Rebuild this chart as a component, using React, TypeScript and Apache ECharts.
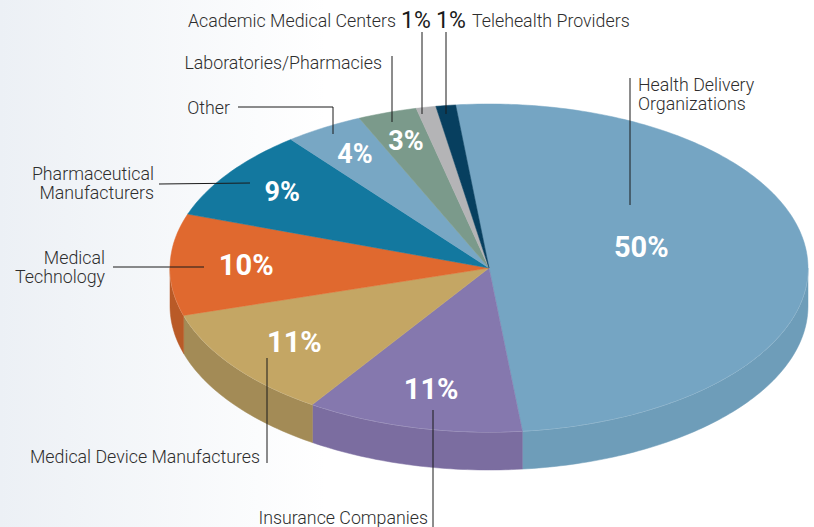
import React, { useEffect, useRef } from 'react';
import * as echarts from 'echarts';

const categories = [
  'Health Delivery Organizations',
  'Insurance Companies',
  'Medical Device Manufactures',
  'Medical Technology',
  'Pharmaceutical Manufacturers',
  'Other',
  'Laboratories/Pharmacies',
  'Academic Medical Centers',
  'Telehealth Providers',
];
const values = [50, 11, 11, 10, 9, 4, 3, 1, 1];
const topColors = ['#75a5c3', '#8578ae', '#c4a664', '#e0692f', '#13789f', '#78a7c4', '#7b9a8b', '#b4b4b6', '#073f5f'];
const sideColors = ['#6e9db9', '#7b6da0', '#a38b56', '#b95a27', '#0f6688', '#6b97b3', '#6b8a7b', '#9a9a9c', '#05324b'];

const CX = 489;
const CY = 268;
const RX = 319;
const RY = 164;
const DEPTH = 38;
const START = -96;

const total = values.reduce((a, b) => a + b, 0);
const cumulative = values.map((_, i) => values.slice(0, i).reduce((a, b) => a + b, 0));
const seriesData = values.map((v, i) => ({ name: categories[i], value: [v, cumulative[i]] }));

const rad = (d: number) => (d * Math.PI) / 180;
const pt = (a: number, dy = 0): number[] => [CX + RX * Math.cos(rad(a)), CY + RY * Math.sin(rad(a)) + dy];

function arc(a0: number, a1: number, dy = 0): number[][] {
  const n = Math.max(2, Math.ceil(Math.abs(a1 - a0)));
  const pts: number[][] = [];
  for (let i = 0; i <= n; i++) pts.push(pt(a0 + ((a1 - a0) * i) / n, dy));
  return pts;
}

const LABEL_FONT = 'Roboto';
const labelColor = '#2e2e2e';
const lineColor = '#1a1a1a';

function txt(x: number, y: number, text: string, align: string, size = 17.8, weight: any = 300, color = labelColor) {
  return {
    type: 'text',
    x,
    y,
    z: 10,
    style: { text, fill: color, fontSize: size, fontWeight: weight, fontFamily: LABEL_FONT, align, verticalAlign: 'middle', lineHeight: 19 },
  };
}
function line(points: number[][]) {
  return { type: 'polyline', z: 10, shape: { points }, style: { stroke: lineColor, lineWidth: 1, fill: null } };
}

export default function App() {
  const ref = useRef<HTMLDivElement>(null);
  useEffect(() => {
    document.body.style.margin = '0';
    const chart = echarts.init(ref.current!, null, { renderer: 'svg' });
    const option: any = {
      animation: false,
      backgroundColor: {
        type: 'linear', x: 0, y: 0, x2: 1, y2: 0,
        colorStops: [
          { offset: 0, color: '#ecf0f5' },
          { offset: 0.4, color: '#ffffff' },
          { offset: 1, color: '#ffffff' },
        ],
      },
      series: [
        {
          type: 'custom',
          coordinateSystem: 'none',
          z: 1,
          data: seriesData,
          renderItem: (params: any, api: any) => {
            const v = api.value(0);
            const c = api.value(1);
            const a0 = START + (c / total) * 360;
            const a1 = START + ((c + v) / total) * 360;
            const children: any[] = [];
            for (const [lo, hi] of [[0, 180], [360, 540]]) {
              const s = Math.max(a0, lo);
              const e = Math.min(a1, hi);
              if (e > s) {
                const top = arc(s, e);
                const bottom = arc(e, s, DEPTH);
                children.push({
                  type: 'polygon',
                  shape: { points: top.concat(bottom) },
                  style: { fill: sideColors[params.dataIndex], stroke: sideColors[params.dataIndex], lineWidth: 0.5 },
                });
                children.push({
                  type: 'polyline',
                  shape: { points: top },
                  style: { stroke: 'rgba(255,255,255,0.45)', lineWidth: 1, fill: null },
                });
              }
            }
            return { type: 'group', children };
          },
        },
        {
          type: 'custom',
          coordinateSystem: 'none',
          z: 2,
          data: seriesData,
          renderItem: (params: any, api: any) => {
            const v = api.value(0);
            const c = api.value(1);
            const a0 = START + (c / total) * 360;
            const a1 = START + ((c + v) / total) * 360;
            const color = topColors[params.dataIndex];
            const children: any[] = [
              {
                type: 'polygon',
                shape: { points: [[CX, CY]].concat(arc(a0, a1)) },
                style: { fill: color, stroke: color, lineWidth: 0.5 },
              },
            ];
            if (v >= 3) {
              const mid = (a0 + a1) / 2;
              const big = v >= 30;
              const sn = Math.sin(rad(mid));
              const f = big ? 0.48 : 0.76 + 0.06 * Math.max(0, -sn);
              const x = CX + RX * f * Math.cos(rad(mid));
              const y = CY + RY * f * sn - (big ? 13 : 0);
              children.push({
                type: 'text',
                x,
                y,
                z2: 5,
                style: {
                  text: v + '%',
                  fill: '#ffffff',
                  fontSize: v >= 10 ? 29 : 27,
                  fontWeight: 'bold',
                  fontFamily: 'Roboto',
                  align: 'center',
                  verticalAlign: 'middle',
                },
              });
            }
            return { type: 'group', children };
          },
        },
      ],
      graphic: [
        txt(396, 20, categories[7], 'right'),
        txt(416, 20, values[7] + '%', 'center', 23, 400, '#1a1a1a'),
        txt(451, 20, values[8] + '%', 'center', 23, 400, '#1a1a1a'),
        txt(472, 20, categories[8], 'left'),
        line([[422, 32], [422, 114]]),
        line([[446, 32], [446, 114]]),
        txt(382, 62, categories[6], 'right'),
        line([[392, 56], [392, 122]]),
        txt(230, 107, categories[5], 'right'),
        line([[238, 107], [333, 107], [333, 134]]),
        txt(154, 183, 'Pharmaceutical\nManufacturers', 'right'),
        line([[159, 184], [250, 183]]),
        txt(105, 267, 'Medical\nTechnology', 'right'),
        line([[113, 267], [204, 267]]),
        txt(260, 456, categories[2], 'right'),
        line([[267, 358], [267, 463]]),
        txt(428, 517, categories[1], 'right'),
        line([[433, 410], [433, 527]]),
        txt(638, 94, 'Health Delivery\nOrganizations', 'left'),
        line([[630, 78], [630, 205]]),
      ],
    };
    chart.setOption(option);
    return () => chart.dispose();
  }, []);
  return <div ref={ref} style={{ position: 'absolute', left: 0, top: 0, width: 814, height: 527 }} />;
}
